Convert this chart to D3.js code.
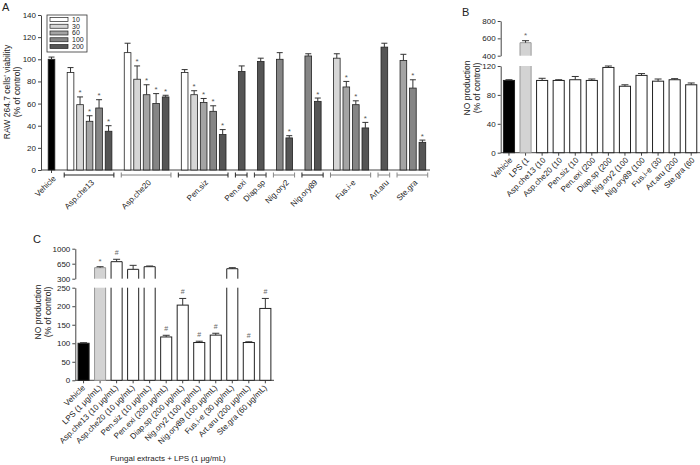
<!DOCTYPE html>
<html><head><meta charset="utf-8">
<script src="https://cdn.jsdelivr.net/npm/d3@7"></script>
<style>body{margin:0;background:#fff} svg{display:block} text{font-family:"Liberation Sans",Arial,sans-serif;fill:#222}</style>
</head><body><svg id="c" width="700" height="465"></svg>
<script>
// ---------- Panel A data (cell viability, % of control) ----------
const groupsA = ["Vehicle","Asp.che13","Asp.che20","Pen.siz","Pen.exi","Diap.sp","Nig.ory2","Nig.ory89","Fus.i-e","Art.aru","Ste.gra"];
const concsA  = [["Vehicle"],["10","30","60","100","200"],["10","30","60","100","200"],["10","30","60","100","200"],["200"],["200"],["100","200"],["100","200"],["30","60","100","200"],["200"],["60","100","200"]];
const valuesA = [[100],[88,59,44,56,35],[106,82,68,60,66],[88,68,61,53,32],[89],[98],[100,29],[103,62],[101,75,59,38],[111],[99,74,25]];
const errorsA = [[2],[4.5,7,5,7.5,5],[8.5,12,9,9,1.5],[2.7,3.6,3.6,5,4.5],[5],[3],[6,2],[2,3],[4,5,3.5,5],[3.5],[5.5,7.5,2]];
const starsA  = [[0],[0,1,1,1,1],[0,1,1,1,1],[0,1,1,1,1],[0],[0],[0,1],[0,1],[0,1,1,1],[0],[0,1,1]];
const legendA = ["10","30","60","100","200"];
const ticksA  = [0,20,40,60,80,100,120,140];

// ---------- Panel B data (NO production, % of control) ----------
const catsB   = ["Vehicle","LPS (1","Asp.che13 (10","Asp.che20 (10","Pen.siz (10","Pen.exi (200","Diap.sp (200","Nig.ory2 (100","Nig.ory89 (100","Fus.i-e (30","Art.aru (200","Ste.gra (60"];
const valuesB = [100,550,100,100,101,100,118,92,107,99,101,94];
const errorsB = [1,23,3,1,4.5,2,2,2,2.5,3,1.5,2.5];
const marksB  = ["","*","","","","","","","","","",""];
const ticksBLow  = [0,40,80,120];
const ticksBHigh = [400,600,800];

// ---------- Panel C data (NO production with LPS, % of control) ----------
const catsC   = ["Vehicle","LPS (1 μg/mL)","Asp.che13 (10 μg/mL)","Asp.che20 (10 μg/mL)","Pen.siz (10 μg/mL)","Pen.exi (200 μg/mL)","Diap.sp (200 μg/mL)","Nig.ory2 (100 μg/mL)","Nig.ory89 (100 μg/mL)","Fus.i-e (30 μg/mL)","Art.aru (200 μg/mL)","Ste.gra (60 μg/mL)"];
const valuesC = [100,557,697,519,580,117,203,102,122,533,102,194];
const errorsC = [1.5,23,56,93,16,4.5,18,3.5,5,24,2,27];
const marksC  = ["","*","#","","","#","#","#","#","","#","#"];
const ticksCLow  = [0,50,100,150,200,250];
const ticksCHigh = [300,650,1000];

// ---------- styles ----------
const FONT = "'Liberation Sans', Arial, sans-serif";
const concFill = {"Vehicle":"#000","10":"#fff","30":"#d6d6d6","60":"#a4a4a4","100":"#858585","200":"#555"};
const bracketColor = ["#222","#222","#808080","#222","#222","#333","#888","#222","#808080","#888","#888"];
const svg = d3.select("#c");
const fmt = d3.format("d");

function styleAxis(g){
  g.attr("font-size",8).attr("font-family",FONT);
  g.selectAll("path,line").attr("stroke","#444").attr("stroke-width",1);
  g.selectAll("text").attr("fill","#222");
}

// ================= Panel A =================
(function(){
  const slots = [], bars = [];
  groupsA.forEach((g,gi)=>{
    concsA[gi].forEach((c,ci)=>{
      const key = g+"|"+c;
      slots.push(key);
      bars.push({g,gi,c,key,v:valuesA[gi][ci],e:errorsA[gi][ci],s:starsA[gi][ci]});
    });
    if(gi<groupsA.length-1) slots.push("gap"+gi);
  });
  const x = d3.scaleBand().domain(slots).range([46.75,427.15]).paddingInner(0.3).paddingOuter(0.15);
  const y = d3.scaleLinear().domain([0,140]).range([170,15]);
  const bw = x.bandwidth();
  const g = svg.append("g");

  g.append("g").attr("transform","translate(41,0)")
    .call(d3.axisLeft(y).tickValues(ticksA).tickFormat(fmt).tickSize(3).tickPadding(2).tickSizeOuter(0))
    .call(styleAxis);
  g.append("g").attr("transform","translate(0,170)")
    .call(d3.axisBottom(x).tickValues(["Vehicle|Vehicle"]).tickFormat("").tickSize(3).tickSizeOuter(0))
    .call(styleAxis)
    .call(a=>a.select(".domain").attr("d","M41,0H430"));

  g.selectAll("rect.bar").data(bars).join("rect").attr("class","bar")
    .attr("x",d=>x(d.key)).attr("width",bw)
    .attr("y",d=>y(d.v)).attr("height",d=>y(0)-y(d.v))
    .attr("fill",d=>concFill[d.c]).attr("stroke","#222").attr("stroke-width",0.8);
  g.selectAll("path.err").data(bars).join("path").attr("class","err")
    .attr("d",d=>{const cx=x(d.key)+bw/2;return `M${cx},${y(d.v)}V${y(d.v+d.e)}M${cx-3},${y(d.v+d.e)}H${cx+3}`;})
    .attr("stroke","#333").attr("stroke-width",1).attr("fill","none");
  g.selectAll("text.star").data(bars.filter(d=>d.s)).join("text").attr("class","star")
    .attr("x",d=>x(d.key)+bw/2).attr("y",d=>y(d.v+d.e)-1.5)
    .attr("text-anchor","middle").attr("font-size",8).style("fill","#555").text("*");

  // group brackets and labels
  groupsA.forEach((gname,gi)=>{
    const keys = concsA[gi].map(c=>gname+"|"+c);
    const x0 = x(keys[0]), x1 = x(keys[keys.length-1])+bw;
    const cx = (x0+x1)/2;
    if(gi>0){
      const col = bracketColor[gi];
      g.append("path").attr("d",`M${x0-3},175H${x1+2}M${x0-3},172.5V177.5M${x1+2},172.5V177.5`)
        .attr("stroke",col).attr("stroke-width",1).attr("fill","none");
    }
    const ly = gi===0?177:181;
    g.append("text").attr("transform",`translate(${cx+3},${ly}) rotate(-45)`)
      .attr("text-anchor","end").attr("dy","0.35em").attr("font-size",8).text(gname);
  });

  // legend
  const lg = g.append("g");
  lg.append("rect").attr("x",47).attr("y",15).attr("width",40).attr("height",37)
    .attr("fill","#fff").attr("stroke","#333").attr("stroke-width",0.8);
  const ly = d3.scalePoint().domain(legendA).range([19.5,46.5]);
  legendA.forEach(k=>{
    lg.append("rect").attr("x",50).attr("y",ly(k)-2).attr("width",18).attr("height",4)
      .attr("fill",concFill[k]).attr("stroke","#222").attr("stroke-width",0.7);
    lg.append("text").attr("x",72).attr("y",ly(k)).attr("dy","0.35em").attr("font-size",7).text(k);
  });

  // y label and panel letter
  g.append("text").attr("transform","translate(10,92) rotate(-90)").attr("text-anchor","middle").attr("font-size",8.5).text("RAW 264.7 cells' viability");
  g.append("text").attr("transform","translate(20,92) rotate(-90)").attr("text-anchor","middle").attr("font-size",8.5).text("(% of control)");
  g.append("text").attr("x",2).attr("y",11).attr("font-size",11).text("A");
})();

// ============ broken-axis bar panel (B and C) ============
function brokenPanel(o){
  const g = svg.append("g");
  const x = d3.scaleBand().domain(o.cats).range(o.xr).paddingInner(0.33).paddingOuter(0.165);
  const ylo = d3.scaleLinear().domain([o.loT[0],o.loT[o.loT.length-1]]).range(o.loR);
  const yhi = d3.scaleLinear().domain([o.hiT[0],o.hiT[o.hiT.length-1]]).range(o.hiR);
  const loMax = o.loT[o.loT.length-1], hiMin = o.hiT[0];
  const bw = x.bandwidth();
  const yv = v => v>loMax ? yhi(v) : ylo(v);

  g.append("g").attr("transform",`translate(${o.xr[0]},0)`)
    .call(d3.axisLeft(ylo).tickValues(o.loT).tickFormat(fmt).tickSize(3).tickPadding(2).tickSizeOuter(0)).call(styleAxis);
  g.append("g").attr("transform",`translate(${o.xr[0]},0)`)
    .call(d3.axisLeft(yhi).tickValues(o.hiT).tickFormat(fmt).tickSize(3).tickPadding(2).tickSizeOuter(0)).call(styleAxis);
  g.append("g").attr("transform",`translate(0,${o.loR[0]})`)
    .call(d3.axisBottom(x).tickFormat("").tickSize(3).tickSizeOuter(0)).call(styleAxis)
    .call(a=>a.select(".domain").attr("d",`M${o.xr[0]},0H${o.xEnd}`));

  const data = o.cats.map((c,i)=>({c,i,v:o.vals[i],e:o.errs[i],m:o.marks[i]}));
  const fill = d=> d.i===0?"#000":(d.i===1?"#d3d3d3":"#fff");
  const stroke = d=> d.i===1?"#999":"#222";
  data.forEach(d=>{
    const bx = x(d.c);
    if(d.v<=loMax){
      g.append("rect").attr("x",bx).attr("width",bw).attr("y",ylo(d.v)).attr("height",ylo(0)-ylo(d.v))
        .attr("fill",fill(d)).attr("stroke",stroke(d)).attr("stroke-width",1);
    } else {
      const yT = ylo(loMax), y0 = ylo(0);
      g.append("rect").attr("x",bx).attr("width",bw).attr("y",yT).attr("height",y0-yT).attr("fill",fill(d));
      g.append("path").attr("d",`M${bx},${yT}V${y0}H${bx+bw}V${yT}`).attr("fill","none").attr("stroke",stroke(d)).attr("stroke-width",1);
      const yb = yhi(hiMin), yt = yhi(d.v);
      g.append("rect").attr("x",bx).attr("width",bw).attr("y",yt).attr("height",yb-yt).attr("fill",fill(d));
      g.append("path").attr("d",`M${bx},${yb}V${yt}H${bx+bw}V${yb}`).attr("fill","none").attr("stroke",stroke(d)).attr("stroke-width",1);
    }
    const cx = bx+bw/2, ye = yv(d.v+d.e);
    g.append("path").attr("d",`M${cx},${yv(d.v)}V${ye}M${cx-3.5},${ye}H${cx+3.5}`)
      .attr("stroke","#333").attr("stroke-width",1).attr("fill","none");
    if(d.m){
      g.append("text").attr("x",cx).attr("y",ye-(d.m==="*"?3:4)).attr("text-anchor","middle")
        .attr("font-size",d.m==="*"?8:7).style("fill","#666").text(d.m);
    }
    g.append("text").attr("transform",`translate(${cx+o.labDx},${o.loR[0]+o.labDy}) rotate(-45)`)
      .attr("text-anchor","end").attr("dy","0.35em").attr("font-size",o.labFs).text(d.c);
  });
  g.append("text").attr("transform",`translate(${o.ylx},${o.yly}) rotate(-90)`).attr("text-anchor","middle").attr("font-size",8.5).text("NO production");
  g.append("text").attr("transform",`translate(${o.ylx+10},${o.yly}) rotate(-90)`).attr("text-anchor","middle").attr("font-size",8.5).text("(% of control)");
  g.append("text").attr("x",o.letter[0]).attr("y",o.letter[1]).attr("font-size",11).text(o.letterText);
  return g;
}

brokenPanel({cats:catsB,vals:valuesB,errs:errorsB,marks:marksB,
  xr:[500.7,699.5], xEnd:700, loT:ticksBLow, hiT:ticksBHigh, loR:[152.7,66], hiR:[55.7,21],
  labDx:2, labDy:6, labFs:8, ylx:470, yly:88, letter:[462,16], letterText:"B"});

const gC = brokenPanel({cats:catsC,vals:valuesC,errs:errorsC,marks:marksC,
  xr:[75.3,273.6], xEnd:274, loT:ticksCLow, hiT:ticksCHigh, loR:[380.3,287.7], hiR:[278.7,248.7],
  labDx:0, labDy:6, labFs:8, ylx:41, yly:312, letter:[33,243], letterText:"C"});
gC.append("text").attr("x",168).attr("y",461).attr("text-anchor","middle").attr("font-size",8).text("Fungal extracts + LPS (1 μg/mL)");
</script></body></html>
